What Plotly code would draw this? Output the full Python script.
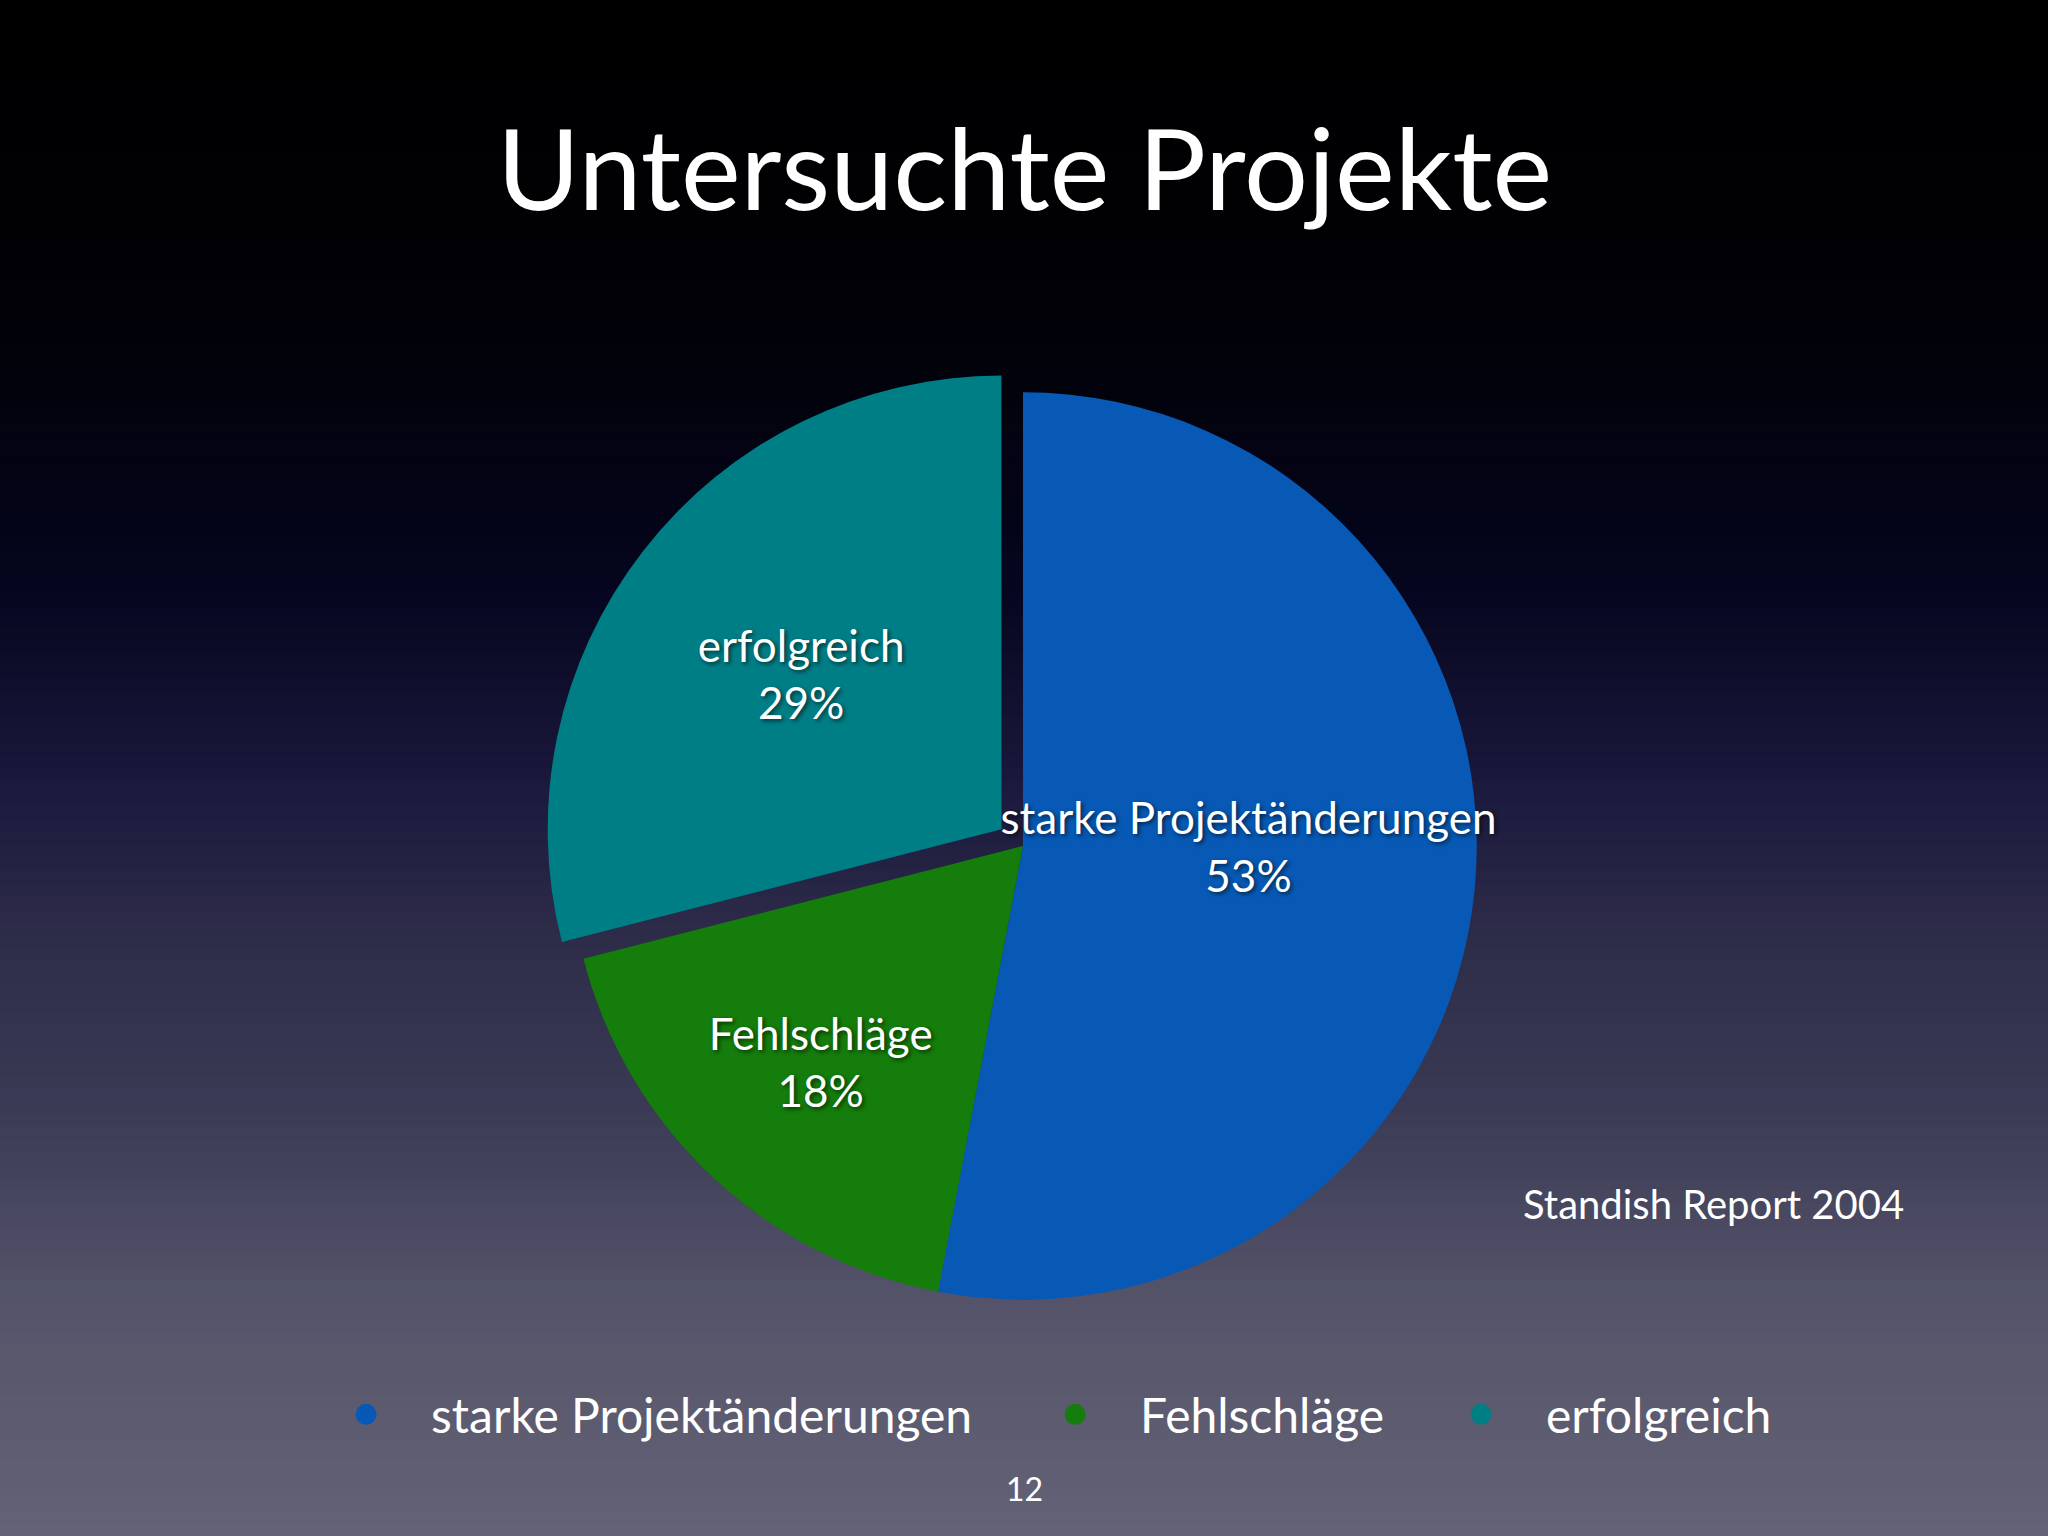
import plotly.graph_objects as go

# ---- data ----
categories = ["starke Projektänderungen", "Fehlschläge", "erfolgreich"]
values = [53, 18, 29]
slice_colors = ["#0759b5", "#157d0b", "#007e86"]
pulls = [0, 0, 0.06]
title_text = "Untersuchte Projekte"
source_text = "Standish Report 2004"
page_text = "12"

W, H = 2048, 1536
FONT = "Lato, 'Open Sans', sans-serif"

fig = go.Figure()

fig.add_trace(go.Pie(
    labels=categories,
    values=values,
    sort=False,
    direction="clockwise",
    rotation=0,
    pull=pulls,
    marker=dict(colors=slice_colors, line=dict(width=0)),
    texttemplate="%{label}<br>%{percent:.0%}",
    textposition="inside",
    insidetextorientation="horizontal",
    textfont=dict(family=FONT, size=44, color="white",
                  shadow="2px 2px 4px rgba(0,0,0,0.6)"),
    hoverinfo="label+percent",
    showlegend=False,
    domain=dict(x=[0.2646, 0.7344], y=[0.1361, 0.7624]),
))

# legend entries (one legend per entry so each can be placed freely)
legend_x = [0.147, 0.4932, 0.6914]
for i, (name, col) in enumerate(zip(categories, slice_colors)):
    lg = "legend" if i == 0 else f"legend{i+1}"
    fig.add_trace(go.Scatter(
        x=[None], y=[None], mode="markers", name=name,
        marker=dict(symbol="circle", size=16, color=col,
                    line=dict(width=5, color=col)),
        legend=lg, showlegend=True, hoverinfo="skip",
    ))

# background gradient bands
stops = [(0.0, (0, 0, 0)), (0.20, (1, 1, 6)), (0.38, (5, 5, 30)),
         (0.52, (28, 26, 62)), (0.60, (44, 42, 72)), (0.72, (58, 58, 85)),
         (0.85, (85, 84, 106)), (1.0, (99, 98, 118))]

def col_at(t):
    for (t0, c0), (t1, c1) in zip(stops[:-1], stops[1:]):
        if t0 <= t <= t1:
            f = (t - t0) / (t1 - t0) if t1 > t0 else 0
            return "rgb(%d,%d,%d)" % tuple(round(a + (b - a) * f) for a, b in zip(c0, c1))
    return "rgb(%d,%d,%d)" % stops[-1][1]

n = 120
shapes = []
for k in range(n):
    t0 = k / n
    t1 = (k + 1) / n
    shapes.append(dict(type="rect", xref="paper", yref="paper",
                       x0=0, x1=1, y0=1 - t1 - 0.001, y1=1 - t0,
                       fillcolor=col_at((t0 + t1) / 2), line=dict(width=0),
                       layer="below"))

legend_common = dict(orientation="h", xanchor="left", yanchor="middle", y=0.079,
                     bgcolor="rgba(0,0,0,0)", borderwidth=0,
                     font=dict(family=FONT, size=48, color="white"),
                     itemsizing="trace", itemwidth=120)
layout_legends = {}
for i, x in enumerate(legend_x):
    key = "legend" if i == 0 else f"legend{i+1}"
    layout_legends[key] = dict(legend_common, x=x)

fig.update_layout(
    width=W, height=H,
    margin=dict(l=0, r=0, t=0, b=0),
    paper_bgcolor="#000000",
    plot_bgcolor="rgba(0,0,0,0)",
    shapes=shapes,
    xaxis=dict(visible=False),
    yaxis=dict(visible=False),
    uniformtext=dict(minsize=44, mode="show"),
    annotations=[
        dict(text=title_text, x=0.5, y=1 - 166 / H, xref="paper", yref="paper",
             showarrow=False, xanchor="center", yanchor="middle",
             font=dict(family=FONT, size=113, color="white")),
        dict(text=source_text, x=1906 / W, y=1 - 1204 / H, xref="paper", yref="paper",
             showarrow=False, xanchor="right", yanchor="middle",
             font=dict(family=FONT, size=40, color="white")),
        dict(text=page_text, x=0.5, y=1 - 1488 / H, xref="paper", yref="paper",
             showarrow=False, xanchor="center", yanchor="middle",
             font=dict(family=FONT, size=32, color="white")),
    ],
    **layout_legends,
)

fig.write_html("out.html",
               config={"displayModeBar": False},
               post_script="document.body.style.margin='0';document.body.style.overflow='hidden';")
